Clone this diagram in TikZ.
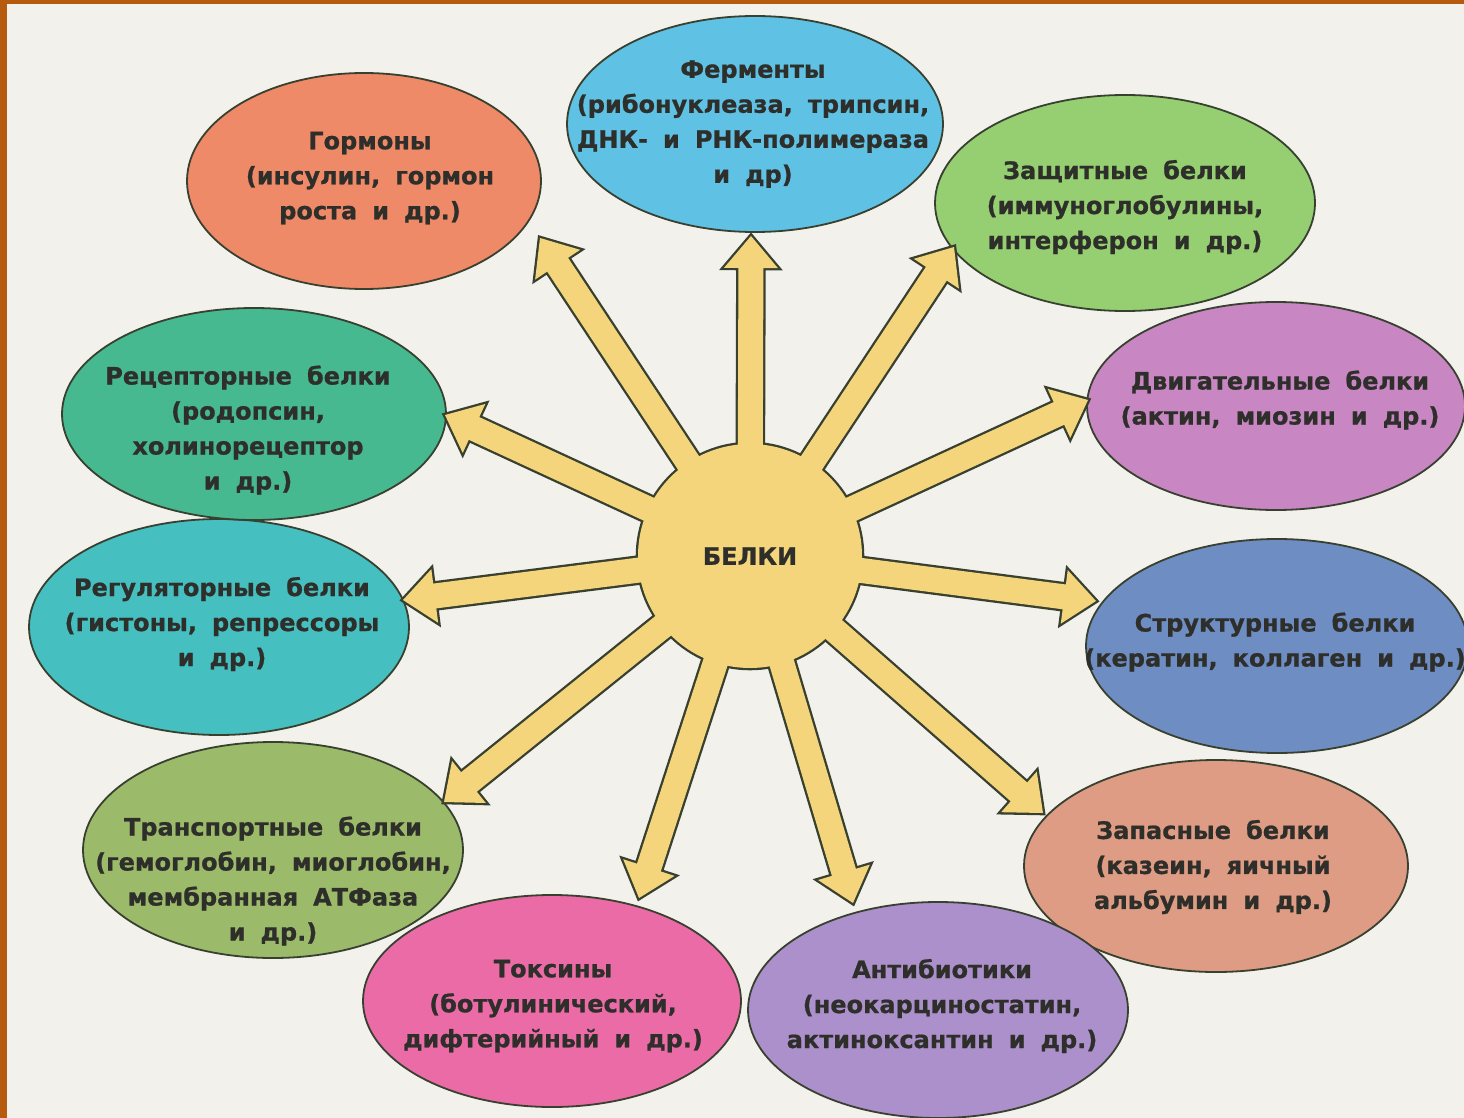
\documentclass[tikz,border=0pt]{standalone}
\usepackage{fontspec}
\setmainfont{DejaVu Sans}[WordSpace=1.8, BoldFeatures={FakeBold=0.8}]
\usetikzlibrary{shapes.geometric,calc}
\definecolor{bgc}{HTML}{F3F1EC}
\definecolor{framec}{HTML}{B65A0E}
\definecolor{linec}{HTML}{38402F}
\definecolor{txtc}{HTML}{2E2E2A}
\definecolor{sunc}{HTML}{F5D57C}
\definecolor{hormc}{HTML}{EF8A68}
\definecolor{fermc}{HTML}{5FC1E3}
\definecolor{zaschc}{HTML}{95CF72}
\definecolor{dvigc}{HTML}{C886C2}
\definecolor{struktc}{HTML}{6E8DC2}
\definecolor{zapasc}{HTML}{DE9C84}
\definecolor{antibc}{HTML}{AC90CB}
\definecolor{toksc}{HTML}{EB6BA6}
\definecolor{transpc}{HTML}{9CBB6A}
\definecolor{regulc}{HTML}{45BFC0}
\definecolor{recepc}{HTML}{46B991}
\newcommand\rayshape[2]{%
  \path[#2] ($(cen.center)!12.5pt!90:(t#1)$)
    -- ($(rb#1)!12.5pt!-90:(cen.center)$)
    -- ($(rb#1)!27pt!-90:(cen.center)$)
    -- (t#1)
    -- ($(rb#1)!27pt!90:(cen.center)$)
    -- ($(rb#1)!12.5pt!90:(cen.center)$)
    -- ($(cen.center)!12.5pt!-90:(t#1)$) -- cycle;}
\begin{document}
\begin{tikzpicture}[x=1pt,y=-1pt,
  ellbox/.style={ellipse, draw=linec, line width=1.8pt, inner sep=0pt},
  txt/.style={align=center, text=txtc, inner sep=0pt,
    font=\bfseries\fontsize{24}{35}\selectfont},
  rayout/.style={fill=sunc, draw=linec, line width=4.6pt, line join=miter},
  rayfill/.style={fill=sunc}]
\useasboundingbox (0,0) rectangle (1464,1118);
\fill[bgc] (0,0) rectangle (1464,1118);
\fill[framec] (0,0) rectangle (7,1118);
\fill[framec] (0,0) rectangle (1464,4);

% ellipses
\node[ellbox, fill=hormc, minimum width=354pt, minimum height=216pt] (e1) at (364,181) {};
\node[ellbox, fill=fermc, minimum width=376pt, minimum height=216pt] (e2) at (755,124) {};
\node[ellbox, fill=zaschc, minimum width=380pt, minimum height=216pt] (e3) at (1125,203) {};
\node[ellbox, fill=dvigc, minimum width=378pt, minimum height=208pt] (e4) at (1276,406) {};
\node[ellbox, fill=struktc, minimum width=382pt, minimum height=214pt] (e5) at (1277,646) {};
\node[ellbox, fill=zapasc, minimum width=384pt, minimum height=212pt] (e6) at (1216,866) {};
\node[ellbox, fill=antibc, minimum width=380pt, minimum height=216pt] (e7) at (938,1010) {};
\node[ellbox, fill=toksc, minimum width=378pt, minimum height=212pt] (e8) at (552,1001) {};
\node[ellbox, fill=transpc, minimum width=380pt, minimum height=216pt] (e9) at (273,850) {};
\node[ellbox, fill=regulc, minimum width=380pt, minimum height=216pt] (e10) at (219,627) {};
\node[ellbox, fill=recepc, minimum width=384pt, minimum height=212pt] (e11) at (254,414) {};

% texts
\node[txt] (l1) at (370,178) {Гормоны\\(инсулин, гормон\\роста и др.)};
\node[txt] (l2) at (753,124) {Ферменты\\(рибонуклеаза, трипсин,\\ДНК- и РНК-полимераза\\и др)};
\node[txt] (l3) at (1125,207) {Защитные белки\\(иммуноглобулины,\\интерферон и др.)};
\node[txt] (l4) at (1280,400) {Двигательные белки\\(актин, миозин и др.)};
\node[txt] (l5) at (1275,642) {Структурные белки\\(кератин, коллаген и др.)};
\node[txt] (l6) at (1213,867) {Запасные белки\\(казеин, яичный\\альбумин и др.)};
\node[txt] (l7) at (942,1006) {Антибиотики\\(неокарциностатин,\\актиноксантин и др.)};
\node[txt] (l8) at (553,1006) {Токсины\\(ботулинический,\\дифтерийный и др.)};
\node[txt] (l9) at (273,881) {Транспортные белки\\(гемоглобин, миоглобин,\\мембранная АТФаза\\и др.)};
\node[txt] (l10) at (222,624) {Регуляторные белки\\(гистоны, репрессоры\\и др.)};
\node[txt] (l11) at (248,430) {Рецепторные белки\\(родопсин,\\холинорецептор\\и др.)};

% centre
\node[circle, inner sep=0pt, minimum size=224pt] (cen) at (750,556) {};

% arrow tips
\coordinate (t1) at (540,238);
\coordinate (t2) at (751,236);
\coordinate (t3) at (954,247);
\coordinate (t4) at (1088,400);
\coordinate (t5) at (1096,601);
\coordinate (t6) at (1043,813);
\coordinate (t7) at (853,903);
\coordinate (t8) at (639,898);
\coordinate (t9) at (444,802);
\coordinate (t10) at (403,600);
\coordinate (t11) at (445,415);
\foreach \i in {1,...,11}{\coordinate (rb\i) at ($(t\i)!32pt!(cen.center)$);}

% outline pass
\foreach \i in {1,...,11}{\rayshape{\i}{rayout}}
\path[rayout] (cen.center) circle[radius=112pt];
% fill pass
\foreach \i in {1,...,11}{\rayshape{\i}{rayfill}}
\path[rayfill] (cen.center) circle[radius=112pt];

\node[txt] (lc) at (cen.center) {БЕЛКИ};
\end{tikzpicture}
\end{document}
